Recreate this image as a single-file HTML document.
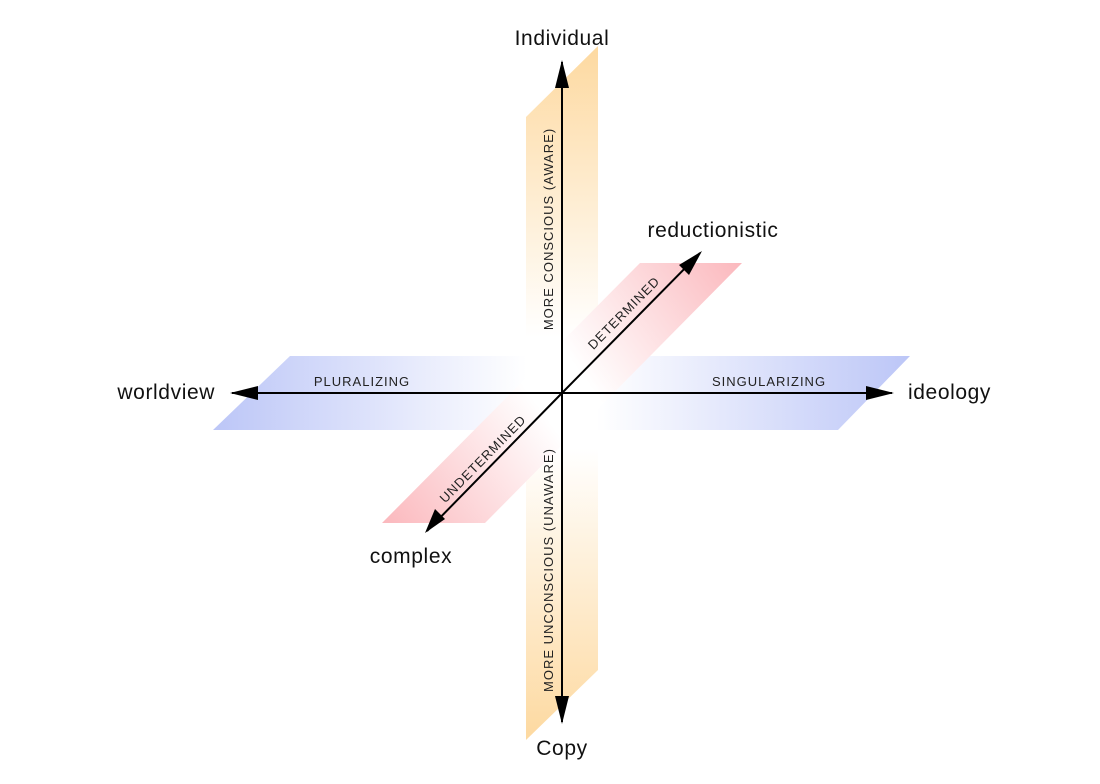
<!DOCTYPE html>
<html><head><style>html,body{margin:0;padding:0;background:#fff}svg{display:block}</style></head><body>
<svg width="1100" height="784" viewBox="0 0 1100 784" xmlns="http://www.w3.org/2000/svg" font-family="Liberation Sans, sans-serif">
<defs>
<linearGradient id="og" x1="0" y1="46" x2="0" y2="740" gradientUnits="userSpaceOnUse">
<stop offset="0" stop-color="#fdd9a0"/><stop offset="0.42" stop-color="#fff" stop-opacity="1"/><stop offset="0.5" stop-color="#fff"/><stop offset="0.58" stop-color="#fff"/><stop offset="1" stop-color="#fdd9a0"/></linearGradient>
<linearGradient id="bg" x1="213" y1="0" x2="910" y2="0" gradientUnits="userSpaceOnUse">
<stop offset="0" stop-color="#bcc6f7"/><stop offset="0.45" stop-color="#fff"/><stop offset="0.55" stop-color="#fff"/><stop offset="1" stop-color="#bcc6f7"/></linearGradient>
<linearGradient id="rg" x1="742" y1="263" x2="382" y2="523" gradientUnits="userSpaceOnUse">
<stop offset="0" stop-color="#fbb8bd"/><stop offset="0.44" stop-color="#fff"/><stop offset="0.56" stop-color="#fff"/><stop offset="1" stop-color="#fbb8bd"/></linearGradient>
</defs>
<polygon points="526,117 598,46 598,670 526,740" fill="url(#og)"/>
<polygon points="290,356 910,356 838,430 213,430" fill="url(#bg)"/>
<polygon points="640,263 742,263 485,523 382,523" fill="url(#rg)"/>
<g stroke="#000" stroke-width="2" fill="none">
<line x1="562" y1="393" x2="562" y2="62"/><line x1="562" y1="393" x2="562" y2="722"/>
<line x1="562" y1="393" x2="232" y2="393"/><line x1="562" y1="393" x2="892" y2="393"/>
<line x1="562" y1="393" x2="700" y2="253"/><line x1="562" y1="393" x2="427" y2="531"/>
</g>
<g fill="#000">
<path d="M562,60 L555,88 L569,88 z"/><path d="M562,724 L555,696 L569,696 z"/>
<path d="M230,393 L258,386 L258,400 z"/><path d="M894,393 L866,386 L866,400 z"/>
<path d="M702,251 L679,265 L689,275 z"/><path d="M425,533 L435,509 L445,519 z"/>
</g>
<g font-size="21" fill="#111" letter-spacing="0.6">
<text x="562" y="45" text-anchor="middle">Individual</text>
<text x="562" y="755" text-anchor="middle">Copy</text>
<text x="215" y="399" text-anchor="end">worldview</text>
<text x="908" y="399">ideology</text>
<text x="713" y="237" text-anchor="middle">reductionistic</text>
<text x="411" y="563" text-anchor="middle">complex</text>
</g>
<g font-size="13" fill="#222" letter-spacing="1">
<text x="362" y="386" text-anchor="middle">PLURALIZING</text>
<text x="769" y="386" text-anchor="middle">SINGULARIZING</text>
<text transform="translate(553,229) rotate(-90)" text-anchor="middle">MORE CONSCIOUS (AWARE)</text>
<text transform="translate(553,570) rotate(-90)" text-anchor="middle">MORE UNCONSCIOUS (UNAWARE)</text>
<text transform="translate(627,316) rotate(-45.5)" text-anchor="middle">DETERMINED</text>
<text transform="translate(486,462) rotate(-45.5)" text-anchor="middle">UNDETERMINED</text>
</g>
</svg>
</body></html>
